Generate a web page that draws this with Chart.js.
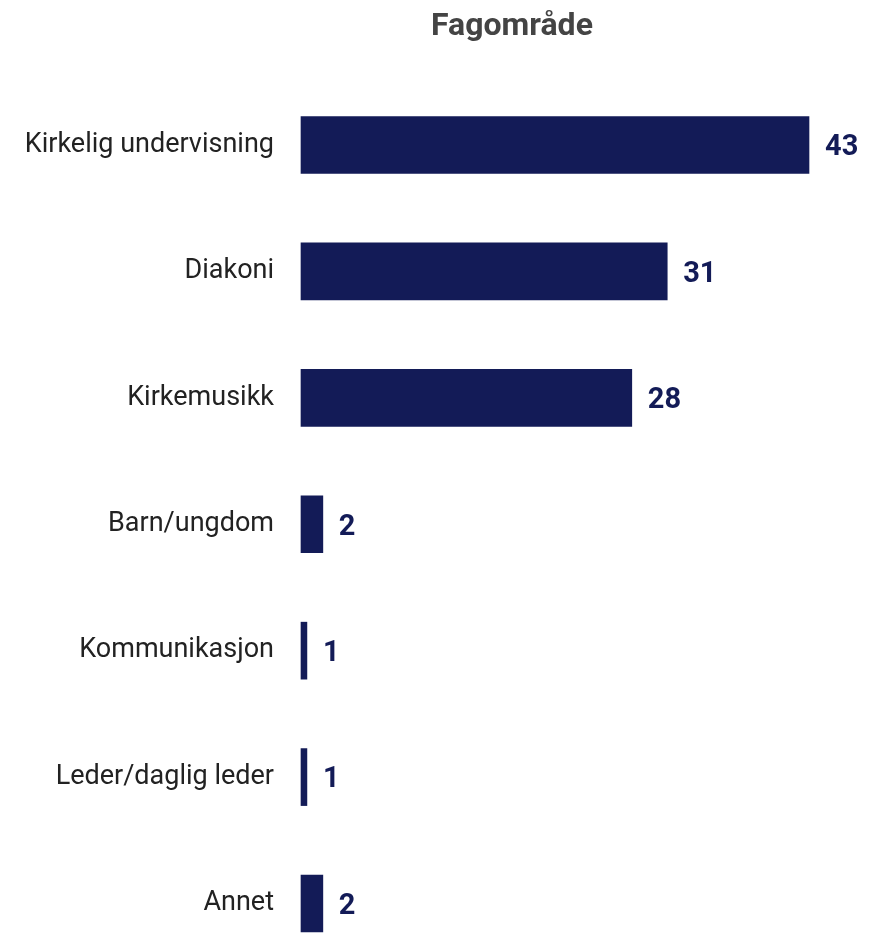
<!DOCTYPE html>
<html>
<head>
<meta charset="utf-8">
<script src="https://cdn.jsdelivr.net/npm/chart.js@4"></script>
<style>
  html, body { margin: 0; padding: 0; background: #fff; }
  #wrap { width: 869px; height: 933px; }
</style>
</head>
<body>
<div id="wrap"><canvas id="fagChart"></canvas></div>
<script>
const categories = ['Kirkelig undervisning', 'Diakoni', 'Kirkemusikk', 'Barn/ungdom', 'Kommunikasjon', 'Leder/daglig leder', 'Annet'];
// bar lengths (the "1" bars are drawn thinner than half of "2")
const barValues = [43, 31, 28, 1.85, 0.5, 0.5, 1.85];
const valueLabels = ['43', '31', '28', '2', '1', '1', '2'];
const chartTitle = 'Fagområde';

const navy = '#131b57';

// draws the title and the value next to each bar
const textPlugin = {
  id: 'textPlugin',
  afterDraw(chart) {
    const ctx = chart.ctx;
    ctx.save();
    ctx.fillStyle = '#444444';
    ctx.font = 'bold 32px Roboto';
    ctx.textAlign = 'center';
    ctx.textBaseline = 'alphabetic';
    ctx.fillText(chartTitle, 512, 35);

    const meta = chart.getDatasetMeta(0);
    ctx.fillStyle = navy;
    ctx.font = 'bold 29px Roboto';
    ctx.textAlign = 'left';
    ctx.textBaseline = 'middle';
    meta.data.forEach((bar, i) => {
      ctx.fillText(valueLabels[i], bar.x + 16, bar.y + 3);
    });
    ctx.restore();
  }
};

new Chart(document.getElementById('fagChart'), {
  type: 'bar',
  data: {
    labels: categories,
    datasets: [{
      data: barValues,
      backgroundColor: navy,
      borderWidth: 0,
      barThickness: 57,
      clip: false
    }]
  },
  options: {
    indexAxis: 'y',
    responsive: true,
    maintainAspectRatio: false,
    animation: false,
    layout: { padding: { top: 145, bottom: 29.5, left: 0, right: 60 } },
    plugins: {
      legend: { display: false },
      tooltip: { enabled: false },
      title: { display: false }
    },
    scales: {
      x: {
        display: false,
        min: 0,
        max: 43
      },
      y: {
        offset: false,
        grid: { display: false, drawTicks: false },
        border: { display: false },
        ticks: {
          padding: 27,
          color: '#222222',
          font: { family: 'Roboto', size: 27 }
        },
        afterFit(scale) {
          scale.width = 301;
          scale.paddingTop = 0;
          scale.paddingBottom = 0;
        }
      }
    }
  },
  plugins: [textPlugin]
});
</script>
</body>
</html>
